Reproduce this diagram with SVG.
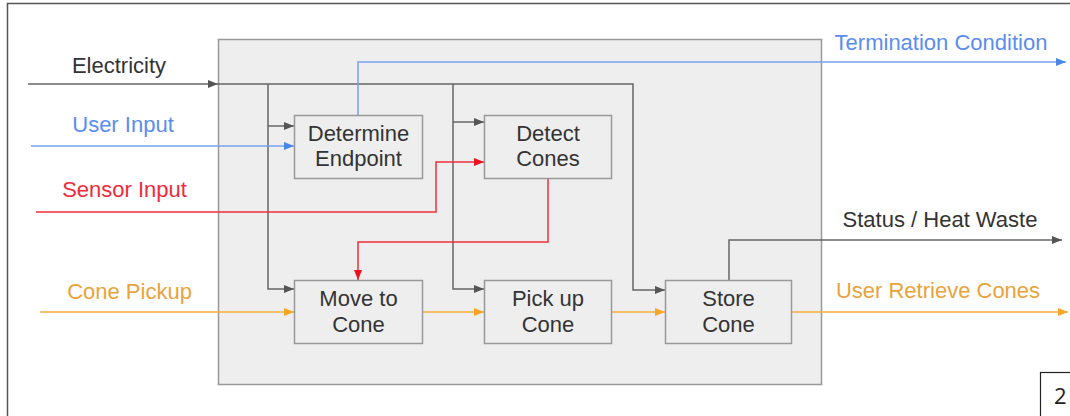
<svg xmlns="http://www.w3.org/2000/svg" width="1070" height="416" viewBox="0 0 1070 416">
<style>
.t{font-family:"Liberation Sans",Arial,sans-serif;font-size:22px;text-anchor:middle}
.dark{fill:#333}
.blue{fill:#5b8def}
.red{fill:#ef2b3c}
.org{fill:#e9a33c}
.box{fill:#eeeeee;stroke:#999;stroke-width:1.5}
.c{fill:none;stroke-width:1.5}
.g{stroke:#666}
.b{stroke:#78a0ee}
.r{stroke:#f0303f}
.o{stroke:#f5ae3a}
</style>
<defs>
<marker id="ag" markerWidth="10" markerHeight="8" refX="10" refY="4" orient="auto" markerUnits="userSpaceOnUse"><path d="M0,0 L10,4 L0,8 z" fill="#555"/></marker>
<marker id="ab" markerWidth="10" markerHeight="8" refX="10" refY="4" orient="auto" markerUnits="userSpaceOnUse"><path d="M0,0 L10,4 L0,8 z" fill="#4a86e8"/></marker>
<marker id="ar" markerWidth="10" markerHeight="8" refX="10" refY="4" orient="auto" markerUnits="userSpaceOnUse"><path d="M0,0 L10,4 L0,8 z" fill="#f0101f"/></marker>
<marker id="ao" markerWidth="10" markerHeight="8" refX="10" refY="4" orient="auto" markerUnits="userSpaceOnUse"><path d="M0,0 L10,4 L0,8 z" fill="#f5a623"/></marker>
</defs>
<rect x="0" y="0" width="1070" height="416" fill="#fff"/>
<rect x="7.5" y="3.5" width="1100" height="500" fill="none" stroke="#555" stroke-width="1.5"/>
<g id="system"><rect x="218.5" y="39.5" width="603" height="345" fill="#eeeeee" stroke="#999" stroke-width="1.5"/></g>

<g id="connectors">
<path class="c g" d="M28,84 H218" marker-end="url(#ag)"/>
<path class="c g" d="M218,84 H633 V290 H665" marker-end="url(#ag)"/>
<path class="c g" d="M268,84 V289 H294" marker-end="url(#ag)"/>
<path class="c g" d="M268,126 H294" marker-end="url(#ag)"/>
<path class="c g" d="M453,84 V289 H484" marker-end="url(#ag)"/>
<path class="c g" d="M453,122 H484" marker-end="url(#ag)"/>
<path class="c b" d="M31,146 H294" marker-end="url(#ab)"/>
<path class="c b" d="M358,115 V62 H1066" marker-end="url(#ab)"/>
<path class="c r" d="M36,212 H436 V162 H484" marker-end="url(#ar)"/>
<path class="c r" d="M548,178 V242 H358 V280" marker-end="url(#ar)"/>
<path class="c o" d="M40,312 H294" marker-end="url(#ao)"/>
<path class="c o" d="M423,312 H484" marker-end="url(#ao)"/>
<path class="c o" d="M612,312 H665" marker-end="url(#ao)"/>
<path class="c o" d="M792,312 H1068" marker-end="url(#ao)"/>
<path class="c g" d="M729,280 V240 H1062" marker-end="url(#ag)"/>
</g>

<g id="determine-endpoint"><rect class="box" x="294.5" y="115.5" width="128" height="63"/><text class="t dark" x="358.5" y="141">Determine</text><text class="t dark" x="358.5" y="166">Endpoint</text></g>
<g id="detect-cones"><rect class="box" x="484.5" y="115.5" width="127" height="63"/><text class="t dark" x="548" y="141">Detect</text><text class="t dark" x="548" y="166">Cones</text></g>
<g id="move-to-cone"><rect class="box" x="294.5" y="280.5" width="128" height="63"/><text class="t dark" x="358.5" y="306">Move to</text><text class="t dark" x="358.5" y="332">Cone</text></g>
<g id="pick-up-cone"><rect class="box" x="484.5" y="280.5" width="127" height="63"/><text class="t dark" x="548" y="306">Pick up</text><text class="t dark" x="548" y="332">Cone</text></g>
<g id="store-cone"><rect class="box" x="665.5" y="280.5" width="126" height="63"/><text class="t dark" x="728.5" y="306">Store</text><text class="t dark" x="728.5" y="332">Cone</text></g>

<g id="labels">
<text class="t dark" x="119" y="73">Electricity</text>
<text class="t blue" x="123" y="132">User Input</text>
<text class="t red" x="124.5" y="197">Sensor Input</text>
<text class="t org" x="129.5" y="299">Cone Pickup</text>
<text class="t blue" x="941" y="50">Termination Condition</text>
<text class="t dark" x="940" y="227">Status / Heat Waste</text>
<text class="t org" x="938" y="298">User Retrieve Cones</text>
</g>
<g id="page-number"><rect x="1040.5" y="372.5" width="50" height="60" fill="#fff" stroke="#222" stroke-width="1.2"/><text x="1054" y="404" font-family="'Open Sans','DejaVu Sans',sans-serif" font-size="22" fill="#222">2</text></g>
</svg>
